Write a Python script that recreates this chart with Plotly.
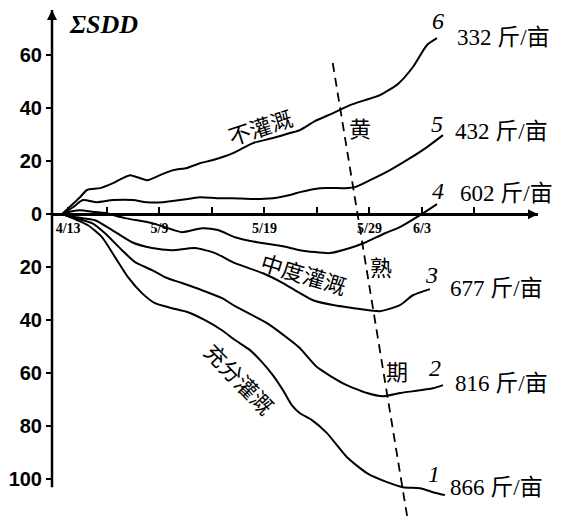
import plotly.graph_objects as go

# ---------------- data ----------------
# x = days counted from the origin (5/9 -> 9, 5/19 -> 19, 5/29 -> 29, 6/3 -> 34)
date_labels = ["4/13", "5/9", "5/19", "5/29", "6/3"]
date_label_pos = [0.3, 9, 19, 29, 34]
minor_tick_pos = [4, 14, 24, 39]

y_tick_vals = [-100, -80, -60, -40, -20, 0, 20, 40, 60]
y_tick_text = ["100", "80", "60", "40", "20", "0", "20", "40", "60"]

curve_ids = [1, 2, 3, 4, 5, 6]
yields = [866, 816, 677, 602, 432, 332]

c1_x = [-0.29, 0.95, 2.19, 3.52, 4.76, 6.0, 7.33, 8.57, 10.19, 11.71, 13.33, 14.95, 16.19,
        17.62, 18.76, 19.81, 20.76, 21.62, 22.38, 23.52, 24.95, 26.86, 28.76, 30.67, 32.19,
        33.81, 35.05, 36.19]
c1_y = [0, -1.9, -4.2, -8.7, -16.2, -23.8, -29.8, -33.6, -35.5, -37.0, -40.0, -43.8, -47.5,
        -51.3, -55.8, -60.8, -66.4, -72.1, -75.1, -77.7, -82.6, -91.7, -97.7, -101.1, -103.0,
        -103.4, -104.9, -106.0]

c2_x = [-0.29, 0.95, 2.57, 3.81, 5.43, 6.67, 8.29, 9.52, 11.14, 13.05, 14.95, 16.19, 19.24,
        21.43, 22.38, 24.0, 26.48, 28.76, 30.29, 31.90, 35.05, 36.0]
c2_y = [0, -1.5, -3.4, -7.2, -13.6, -18.1, -21.1, -23.8, -26.0, -28.7, -31.7, -34.7, -41.1,
        -47.5, -50.6, -57.7, -63.8, -67.5, -68.7, -67.5, -65.7, -64.5]

c3_x = [-0.29, 0.95, 2.86, 4.48, 6.38, 8.29, 10.19, 12.38, 14.29, 16.19, 18.86, 20.76, 22.38,
        23.62, 25.52, 26.86, 28.10, 30.0, 31.90, 33.14, 34.76]
c3_y = [0, -1.1, -2.3, -6.0, -10.6, -12.8, -13.6, -12.8, -14.7, -18.5, -22.3, -26.0, -29.8,
        -32.5, -34.3, -35.1, -35.8, -36.6, -34.3, -30.6, -28.3]

c4_x = [-0.29, 0.67, 1.43, 2.86, 3.81, 5.71, 8.29, 9.52, 11.14, 13.05, 14.57, 16.19, 18.29,
        20.76, 22.38, 25.24, 27.14, 28.48, 30.48, 31.90, 33.81, 35.43]
c4_y = [0, 1.1, 1.5, 0.8, 0.4, -1.5, -3.4, -4.9, -6.8, -5.3, -6.0, -8.7, -10.6,
        -12.1, -13.6, -14.7, -12.8, -10.9, -7.2, -4.9, -0.4, 3.8]

c5_x = [-0.29, 0.76, 1.71, 3.05, 4.57, 6.48, 7.81, 9.33, 10.95, 12.86, 14.48, 16.0, 17.90,
        19.81, 21.43, 22.38, 24.29, 26.67, 27.62, 29.05, 30.95, 32.86, 34.48, 36.0]
c5_y = [0, 2.6, 5.3, 4.5, 5.3, 5.3, 4.5, 4.5, 5.3, 6.4, 6.0, 6.0, 5.7,
        6.0, 7.2, 8.3, 9.8, 9.8, 10.2, 12.8, 16.6, 21.1, 25.3, 29.8]

c6_x = [-0.29, 1.43, 2.10, 3.33, 4.57, 6.19, 7.81, 9.05, 10.29, 11.62, 12.86, 14.10, 16.0,
        17.90, 19.81, 21.43, 22.38, 23.81, 25.52, 27.14, 28.57, 30.0, 31.71, 33.14, 34.48, 35.43]
c6_y = [0, 6.4, 9.1, 9.8, 11.7, 14.7, 12.8, 14.7, 16.6, 17.4, 19.2, 20.4, 23.0,
        26.8, 28.7, 30.6, 31.7, 35.1, 38.1, 41.1, 43.0, 44.9, 49.1, 55.5, 63.8, 66.4]

# yellow-ripening boundary (dashed)
ripen_x = [25.5, 32.6]
ripen_y = [57.0, -114.3]

curves_x = [c1_x, c2_x, c3_x, c4_x, c5_x, c6_x]
curves_y = [c1_y, c2_y, c3_y, c4_y, c5_y, c6_y]

# ---------------- layout helpers ----------------
X_MIN, X_MAX = -1.238, 45.05
Y_MIN, Y_MAX = -115, 77
Y_AXIS_BOTTOM = -103

# the page body has an 8px default margin; shrink the figure to compensate
BODY = 8
FIG_W, FIG_H = 578 - BODY, 521 - BODY

num_pos = [(35.14, -98.1), (35.24, -58.1), (34.86, -23.0), (35.52, 8.7), (35.43, 34.0), (35.52, 72.8)]
yield_pos = [(36.5, -103.0), (36.95, -63.8), (36.5, -27.9), (37.4, 7.9), (36.95, 31.3), (37.15, 66.8)]

fig = go.Figure()

for cx, cy in zip(curves_x, curves_y):
    fig.add_trace(go.Scatter(x=cx, y=cy, mode="lines",
                             line=dict(color="black", width=2, shape="spline", smoothing=0.6),
                             showlegend=False, hoverinfo="skip"))

fig.add_trace(go.Scatter(x=ripen_x, y=ripen_y, mode="lines",
                         line=dict(color="black", width=1.8, dash="9px,6px"),
                         showlegend=False, hoverinfo="skip"))

tickvals = date_label_pos + minor_tick_pos
ticktext = date_labels + [""] * len(minor_tick_pos)

serif = "Liberation Serif, Noto Sans CJK SC, serif"
cjk = "Noto Sans CJK SC, sans-serif"

annotations = []
for cid, (nx, ny) in zip(curve_ids, num_pos):
    annotations.append(dict(x=nx, y=ny, text=f"<i>{cid}</i>", showarrow=False,
                            font=dict(family=serif, size=24, color="black")))
for yv, (lx, ly) in zip(yields, yield_pos):
    annotations.append(dict(x=lx, y=ly, text=f"{yv} 斤/亩", showarrow=False, xanchor="left",
                            font=dict(family=serif, size=23, color="black")))

annotations += [
    dict(x=18.57, y=33.2, text="不灌溉", textangle=-18, showarrow=False,
         font=dict(family=cjk, size=22, color="black")),
    dict(x=22.76, y=-22.3, text="中度灌溉", textangle=17, showarrow=False,
         font=dict(family=cjk, size=22, color="black")),
    dict(x=16.67, y=-61.9, text="充分灌溉", textangle=46, showarrow=False,
         font=dict(family=cjk, size=22, color="black")),
    dict(x=28.1, y=32.8, text="黄", showarrow=False, font=dict(family=cjk, size=22, color="black")),
    dict(x=30.1, y=-19.6, text="熟", showarrow=False, font=dict(family=cjk, size=22, color="black")),
    dict(x=31.6, y=-58.9, text="期", showarrow=False, font=dict(family=cjk, size=22, color="black")),
    dict(x=3.62, y=71.7, text="<b><i>ΣSDD</i></b>", showarrow=False,
         font=dict(family=serif, size=26, color="black")),
    dict(x=46.5, y=-10.6, text="日期", showarrow=False,
         font=dict(family=cjk, size=23, color="black")),
    # axis arrowheads
    dict(x=X_MAX, y=0, ax=-14, ay=0, text="", showarrow=True, arrowhead=2,
         arrowsize=1, arrowwidth=2, arrowcolor="black"),
    dict(x=0, xref="paper", y=Y_MAX, ax=0, ay=14, text="", showarrow=True, arrowhead=2,
         arrowsize=1, arrowwidth=2, arrowcolor="black"),
]

fig.update_layout(
    template="none",
    width=FIG_W, height=FIG_H,
    margin=dict(l=52 - BODY, r=40, t=10 - BODY, b=2, pad=0),
    paper_bgcolor="white", plot_bgcolor="white",
    showlegend=False,
    annotations=annotations,
    shapes=[dict(type="line", xref="paper", x0=0, x1=0, yref="y", y0=Y_AXIS_BOTTOM, y1=Y_MAX,
                 line=dict(color="black", width=2.5))],
    xaxis=dict(range=[X_MIN, X_MAX], showgrid=False, zeroline=False, showline=True,
               linecolor="black", linewidth=2.5, anchor="free",
               position=(0 - Y_MIN) / (Y_MAX - Y_MIN),
               tickmode="array", tickvals=tickvals, ticktext=ticktext,
               ticks="inside", ticklen=6, tickwidth=1.5, tickcolor="black",
               tickfont=dict(family=serif, size=14, color="black", weight="bold"),
               automargin=False),
    yaxis=dict(range=[Y_MIN, Y_MAX], showgrid=False, zeroline=False, showline=False,
               tickmode="array", tickvals=y_tick_vals, ticktext=y_tick_text,
               ticks="outside", ticklen=5, tickwidth=2, tickcolor="black",
               tickfont=dict(family="Liberation Sans, sans-serif", size=20, color="black",
                             weight="bold"),
               automargin=False),
)

fig.write_html("out.html")
